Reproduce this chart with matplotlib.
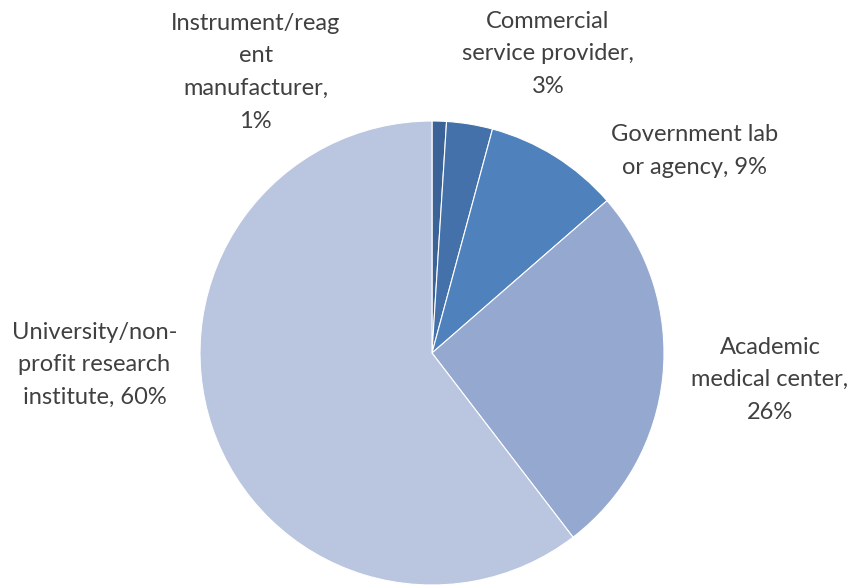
import matplotlib.pyplot as plt

categories = [
    "Instrument/reag\nent\nmanufacturer",
    "Commercial\nservice provider",
    "Government lab\nor agency",
    "Academic\nmedical center",
    "University/non-\nprofit research\ninstitute",
]
shares = [1.0, 3.2, 9.4, 26.0, 60.4]
colors = ["#3c6397", "#4471a9", "#4f81bd", "#95a8d0", "#bac6e0"]

# where each label sits, in pie-radius units
label_pos = [(-0.76, 1.21), (0.50, 1.29), (1.13, 0.87), (1.457, -0.115), (-1.455, -0.05)]
# line break before the percentage or just a space
pct_sep = [",\n", ",\n", ", ", ",\n", ", "]

plt.rcParams["font.family"] = ["Lato", "DejaVu Sans"]

fig = plt.figure(figsize=(8.56, 5.88), dpi=100)
ax = fig.add_axes([0, 0, 1, 1])

ax.pie(shares, colors=colors, startangle=90, counterclock=False,
       radius=1.0, center=(0, 0),
       wedgeprops=dict(edgecolor="white", linewidth=0.8))

for name, val, (x, y), sep in zip(categories, shares, label_pos, pct_sep):
    text = f"{name}{sep}{val:.0f}%"
    ax.text(x, y, text, ha="center", va="center", fontsize=17,
            color="#404040", linespacing=1.68)

ax.set_xlim(-432 / 232, (856 - 432) / 232)
ax.set_ylim((353 - 588) / 232, 353 / 232)
ax.set_aspect("auto")
ax.axis("off")

fig.savefig("out.png", dpi=100)
